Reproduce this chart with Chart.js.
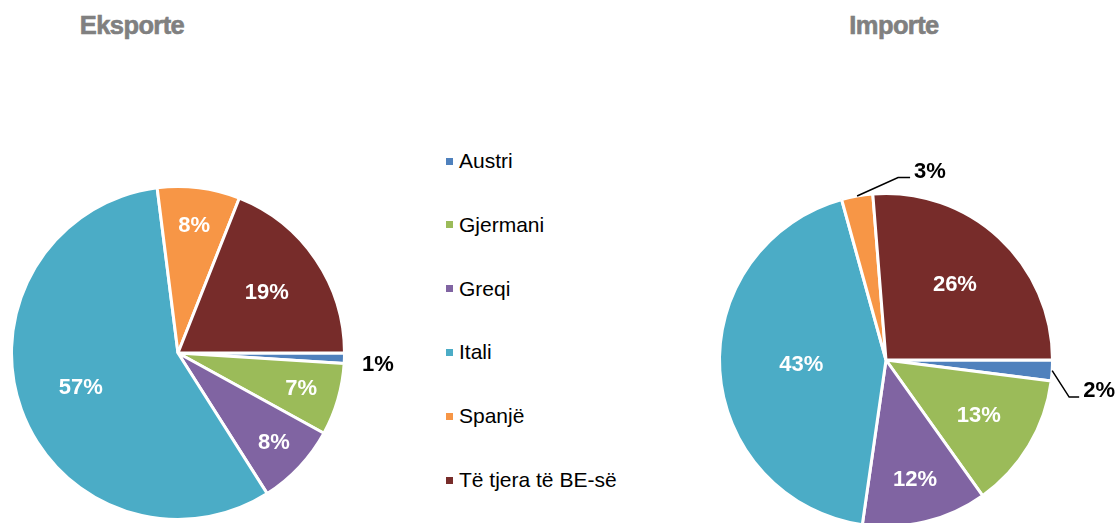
<!DOCTYPE html>
<html>
<head>
<meta charset="utf-8">
<script src="https://cdn.jsdelivr.net/npm/chart.js@4"></script>
<style>
html,body{margin:0;padding:0;width:1117px;height:523px;overflow:hidden;background:#fff;font-family:"Liberation Sans",Arial,sans-serif;}
.title{position:absolute;top:13px;width:200px;text-align:center;font-weight:bold;color:#808080;font-size:25.5px;line-height:25.5px;letter-spacing:-0.6px;-webkit-text-stroke:0.6px #808080;}
#legend{position:absolute;left:0;top:0;}
.item{position:absolute;left:446px;height:24px;display:flex;align-items:center;font-size:21px;color:#000;white-space:nowrap;}
.sw{width:7px;height:7px;margin-right:6px;flex:none;}
canvas{position:absolute;top:0;}
</style>
</head>
<body>
<div class="title" style="left:32px">Eksporte</div>
<div class="title" style="left:794px">Importe</div>
<div id="legend"></div>
<canvas id="exp" width="420" height="523" style="left:0"></canvas>
<canvas id="imp" width="477" height="545" style="left:640px"></canvas>
<script>
// ---- data ----
const categories = ["Austri", "Gjermani", "Greqi", "Itali", "Spanjë", "Të tjera të BE-së"];
const exportShares = [1, 7, 8, 57, 8, 19];
const importShares = [2, 13, 12, 43, 3, 26];
const titles = ["Eksporte", "Importe"];
const colors = ["#4F81BD", "#9BBB59", "#8064A2", "#4BACC6", "#F79646", "#772C2A"];

// ---- legend (HTML) ----
const legendEl = document.getElementById('legend');
categories.forEach((c, i) => {
  const d = document.createElement('div');
  d.className = 'item';
  d.style.top = (149 + i * 63.8) + 'px';
  d.innerHTML = '<span class="sw" style="background:' + colors[i] + '"></span><span></span>';
  d.lastChild.textContent = c;
  legendEl.appendChild(d);
});

// ---- slice label plugin ----
const sliceLabels = {
  id: 'sliceLabels',
  afterDatasetsDraw(chart, args, opts) {
    const ctx = chart.ctx;
    const meta = chart.getDatasetMeta(0);
    const data = chart.data.datasets[0].data;
    ctx.save();
    ctx.font = 'bold 22px "Liberation Sans", Arial, sans-serif';
    meta.data.forEach((arc, i) => {
      const p = arc.getProps(['x', 'y', 'startAngle', 'endAngle', 'outerRadius'], true);
      const mid = (p.startAngle + p.endAngle) / 2;
      const text = data[i] + '%';
      const out = opts.outside[i];
      if (out) {
        const ex = p.x + Math.cos(mid) * p.outerRadius;
        const ey = p.y + Math.sin(mid) * p.outerRadius;
        ctx.fillStyle = '#000';
        if (out.elbow) {
          const bx = ex + out.elbow[0], by = ey + out.elbow[1];
          ctx.strokeStyle = '#000';
          ctx.lineWidth = 1.5;
          ctx.beginPath();
          ctx.moveTo(ex, ey);
          ctx.lineTo(bx, by);
          ctx.lineTo(bx + out.run, by);
          ctx.stroke();
          ctx.textAlign = 'left';
          ctx.textBaseline = 'middle';
          ctx.fillText(text, bx + out.run + 4, by + out.ty);
        } else {
          ctx.textAlign = 'center';
          ctx.textBaseline = 'middle';
          ctx.fillText(text, ex + out.dx, ey + out.dy);
        }
      } else {
        const f = opts.radius[i];
        ctx.fillStyle = '#fff';
        ctx.textAlign = 'center';
        ctx.textBaseline = 'middle';
        ctx.fillText(text, p.x + Math.cos(mid) * p.outerRadius * f, p.y + Math.sin(mid) * p.outerRadius * f);
      }
    });
    ctx.restore();
  }
};

function makePie(id, values, padding, labelOpts) {
  return new Chart(document.getElementById(id), {
    type: 'pie',
    data: {
      labels: categories,
      datasets: [{
        data: values,
        backgroundColor: colors,
        borderColor: '#ffffff',
        borderWidth: 3
      }]
    },
    options: {
      responsive: false,
      animation: false,
      devicePixelRatio: 1,
      rotation: 90,
      layout: { padding: padding },
      plugins: {
        legend: { display: false },
        tooltip: { enabled: false },
        sliceLabels: labelOpts
      }
    },
    plugins: [sliceLabels]
  });
}

makePie('exp', exportShares, { left: 10, right: 74, top: 185, bottom: 2 }, {
  radius: [0, 0.77, 0.79, 0.62, 0.77, 0.645],
  outside: { 0: { dx: 33.5, dy: 6.5 } }
});
makePie('imp', importShares, { left: 78, right: 63, top: 192, bottom: 17 }, {
  radius: [0, 0.65, 0.74, 0.51, 0, 0.61],
  outside: {
    0: { elbow: [17, 26.5], run: 10, ty: -6.5 },
    4: { elbow: [41, -18.5], run: 12, ty: -5.5 }
  }
});
</script>
</body>
</html>
